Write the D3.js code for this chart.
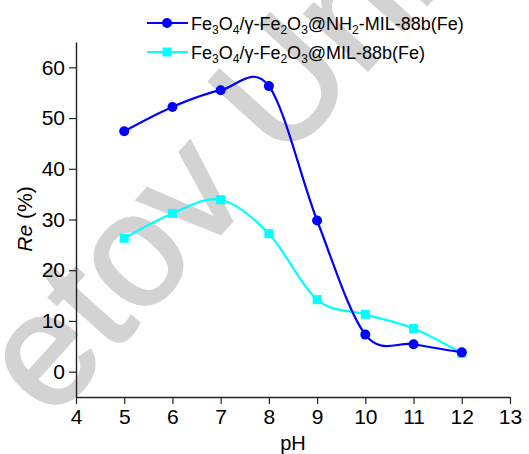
<!DOCTYPE html>
<html>
<head>
<meta charset="utf-8">
<script src="https://cdn.jsdelivr.net/npm/d3@7/dist/d3.min.js"></script>
<style>
  body { margin: 0; background: #fff; }
  svg { display: block; font-family: "Liberation Sans", Arial, sans-serif; }
</style>
</head>
<body>
<div id="chart"></div>
<script>
/* ---------- data ---------- */
const phValues = [5, 6, 7, 8, 9, 10, 11, 12];
const reNH2 = [47.4, 52.2, 55.5, 56.3, 29.8, 7.3, 5.4, 3.8];
const reMIL = [26.3, 31.2, 33.9, 27.2, 14.2, 11.3, 8.5, 3.6];
const xTicks = [4, 5, 6, 7, 8, 9, 10, 11, 12, 13];
const yTicks = [0, 10, 20, 30, 40, 50, 60];

const W = 529, H = 454;
const margin = { top: 42, right: 19, bottom: 57, left: 76 };

const svg = d3.select('#chart').append('svg')
  .attr('width', W).attr('height', H);

/* ---------- watermark (behind the plot) ---------- */
svg.append('text')
  .attr('transform', 'translate(51,422) rotate(-48)')
  .attr('font-size', 160)
  .attr('fill', '#d3d3d3')
  .attr('stroke', '#d3d3d3')
  .attr('stroke-width', 3)
  .text('etov Uni');

/* ---------- scales ---------- */
const x = d3.scaleLinear().domain([4, 13]).range([margin.left, W - margin.right]);
const y = d3.scaleLinear().domain([-5, 65]).range([H - margin.bottom, margin.top]);

/* ---------- axes ---------- */
const xMinor = d3.range(4.5, 13, 1);
const yMinor = d3.range(-5, 66, 10);

const gx = svg.append('g').attr('transform', `translate(0,${y.range()[0]})`);
gx.call(d3.axisBottom(x).tickValues(xMinor).tickSize(4).tickSizeOuter(0).tickFormat(''));
gx.call(d3.axisBottom(x).tickValues(xTicks).tickSize(7).tickSizeOuter(0).tickPadding(5));

const gy = svg.append('g').attr('transform', `translate(${margin.left},0)`);
gy.call(d3.axisLeft(y).tickValues(yMinor).tickSize(4).tickSizeOuter(0).tickFormat(''));
gy.call(d3.axisLeft(y).tickValues(yTicks).tickSize(7).tickSizeOuter(0).tickPadding(4));

svg.selectAll('.domain').attr('stroke', '#222').attr('stroke-width', 1.4);
svg.selectAll('.tick line').attr('stroke', '#222').attr('stroke-width', 1.2);
svg.selectAll('.tick text')
  .attr('font-size', 21)
  .attr('font-family', '"Liberation Sans", Arial, sans-serif')
  .attr('fill', '#000');

/* axis titles */
svg.append('text')
  .attr('x', (x.range()[0] + x.range()[1]) / 2)
  .attr('y', 450)
  .attr('text-anchor', 'middle')
  .attr('font-size', 20)
  .text('pH');

const yt = svg.append('text')
  .attr('transform', 'translate(32,219) rotate(-90)')
  .attr('text-anchor', 'middle')
  .attr('font-size', 21);
yt.append('tspan').attr('font-style', 'italic').text('Re');
yt.append('tspan').text(' (%)');

/* ---------- series ---------- */
const series = [
  { name: 'NH2', values: reNH2, color: '#0000ff', marker: 'circle' },
  { name: 'MIL', values: reMIL, color: '#00ffff', marker: 'square' },
];

const line = d3.line()
  .x((d) => x(d[0]))
  .y((d) => y(d[1]))
  .curve(d3.curveCardinal.tension(0));

// cyan first so the blue curve sits on top
[series[1], series[0]].forEach((s) => {
  const pts = phValues.map((p, i) => [p, s.values[i]]);
  svg.append('path')
    .datum(pts)
    .attr('d', line)
    .attr('fill', 'none')
    .attr('stroke', s.color)
    .attr('stroke-width', 2.2);

  if (s.marker === 'circle') {
    svg.selectAll(null).data(pts).enter().append('circle')
      .attr('cx', (d) => x(d[0]))
      .attr('cy', (d) => y(d[1]))
      .attr('r', 5)
      .attr('fill', s.color);
  } else {
    svg.selectAll(null).data(pts).enter().append('rect')
      .attr('x', (d) => x(d[0]) - 4.5)
      .attr('y', (d) => y(d[1]) - 4.5)
      .attr('width', 9)
      .attr('height', 9)
      .attr('fill', s.color);
  }
});

/* ---------- legend ---------- */
const legendRows = [
  { s: series[0], parts: [['Fe'], ['3', 'sub'], ['O'], ['4', 'sub'], ['/γ-Fe'], ['2', 'sub'], ['O'], ['3', 'sub'], ['@NH'], ['2', 'sub'], ['-MIL-88b(Fe)']] },
  { s: series[1], parts: [['Fe'], ['3', 'sub'], ['O'], ['4', 'sub'], ['/γ-Fe'], ['2', 'sub'], ['O'], ['3', 'sub'], ['@MIL-88b(Fe)']] },
];

legendRows.forEach((row, i) => {
  const ly = 23 + i * 29;
  const g = svg.append('g');
  g.append('line')
    .attr('x1', 147).attr('x2', 188)
    .attr('y1', ly).attr('y2', ly)
    .attr('stroke', row.s.color).attr('stroke-width', 2.2);
  if (row.s.marker === 'circle') {
    g.append('circle').attr('cx', 167).attr('cy', ly).attr('r', 5).attr('fill', row.s.color);
  } else {
    g.append('rect').attr('x', 162.5).attr('y', ly - 4.5).attr('width', 9).attr('height', 9).attr('fill', row.s.color);
  }
  const t = g.append('text').attr('x', 191).attr('y', ly + 6.5).attr('font-size', 18);
  let wasSub = false;
  row.parts.forEach(([str, kind]) => {
    const ts = t.append('tspan').text(str);
    if (kind === 'sub') {
      ts.attr('font-size', 12).attr('dy', 4);
      wasSub = true;
    } else {
      if (wasSub) ts.attr('dy', -4);
      wasSub = false;
    }
  });
});
</script>
</body>
</html>
